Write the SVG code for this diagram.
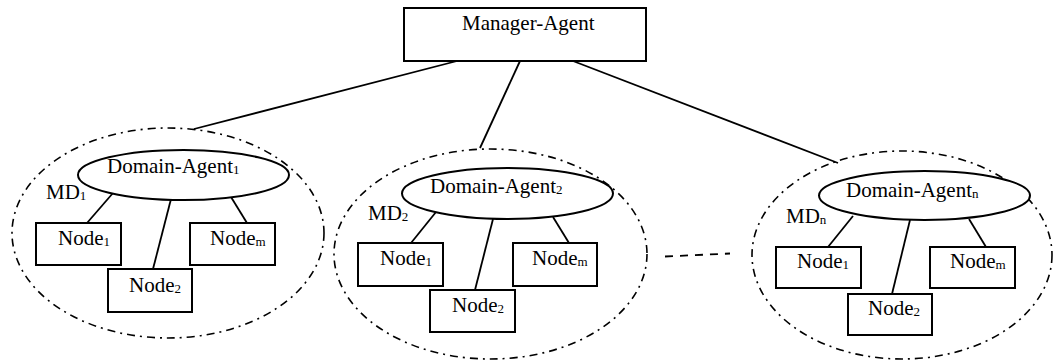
<svg xmlns="http://www.w3.org/2000/svg" width="1056" height="360" viewBox="0 0 1056 360">
<style>
  .t{font-family:"Liberation Serif","Times New Roman",serif;font-size:21px;fill:#000}
  .s{font-size:13px}
  .box{fill:#fff;stroke:#000;stroke-width:2}
  .ag{fill:#fff;stroke:#000;stroke-width:2}
  .md{fill:none;stroke:#000;stroke-width:1.6;stroke-dasharray:8 5 2 5}
  .ln{stroke:#000;stroke-width:1.8;fill:none}
  .dl{stroke:#000;stroke-width:1.8;stroke-dasharray:8 7;fill:none}
</style>
<rect width="1056" height="360" fill="#fff"/>
<g id="connectors">
  <line class="ln" x1="457" y1="61" x2="194" y2="129"/>
  <line class="ln" x1="520" y1="61" x2="480" y2="148"/>
  <line class="ln" x1="573" y1="61" x2="838" y2="163"/>
  <line class="ln" x1="113" y1="193" x2="87" y2="223"/>
  <line class="ln" x1="171" y1="199" x2="153" y2="269"/>
  <line class="ln" x1="231" y1="197" x2="247" y2="223"/>
  <line class="ln" x1="436" y1="212" x2="411" y2="243"/>
  <line class="ln" x1="493" y1="219" x2="475" y2="290"/>
  <line class="ln" x1="553" y1="217" x2="569" y2="243"/>
  <line class="ln" x1="853" y1="216" x2="828" y2="247"/>
  <line class="ln" x1="910" y1="220" x2="892" y2="294"/>
  <line class="ln" x1="969" y1="219" x2="986" y2="247"/>
  <line class="dl" x1="665" y1="256.5" x2="730" y2="253.5"/>
</g>
<g id="manager">
  <rect class="box" x="404" y="8" width="242" height="53"/>
  <text class="t" x="462" y="30">Manager-Agent</text>
</g>
<g id="md1">
  <ellipse class="md" cx="168" cy="233" rx="156" ry="105"/>
  <ellipse class="ag" cx="183.5" cy="175" rx="105.5" ry="25"/>
  <text class="t" x="107" y="173">Domain-Agent<tspan class="s" dy="1">1</tspan></text>
  <text class="t" x="46" y="199">MD<tspan class="s" dy="1">1</tspan></text>
</g>
<g id="md1-node1"><rect class="box" x="36" y="223" width="85" height="42"/><text class="t" x="58" y="245">Node<tspan class="s" dy="1">1</tspan></text></g>
<g id="md1-node2"><rect class="box" x="108" y="269" width="84" height="43"/><text class="t" x="129" y="292">Node<tspan class="s" dy="1">2</tspan></text></g>
<g id="md1-nodem"><rect class="box" x="190" y="223" width="85" height="42"/><text class="t" x="210" y="245">Node<tspan class="s" dy="1">m</tspan></text></g>
<g id="md2">
  <ellipse class="md" cx="490.5" cy="254" rx="156.5" ry="105"/>
  <ellipse class="ag" cx="507.5" cy="193.5" rx="105.5" ry="25.5"/>
  <text class="t" x="430" y="193">Domain-Agent<tspan class="s" dy="1">2</tspan></text>
  <text class="t" x="368" y="220">MD<tspan class="s" dy="1">2</tspan></text>
</g>
<g id="md2-node1"><rect class="box" x="358" y="243" width="85" height="43"/><text class="t" x="380" y="265">Node<tspan class="s" dy="1">1</tspan></text></g>
<g id="md2-node2"><rect class="box" x="430" y="290" width="85" height="42"/><text class="t" x="452" y="312">Node<tspan class="s" dy="1">2</tspan></text></g>
<g id="md2-nodem"><rect class="box" x="513" y="243" width="84" height="43"/><text class="t" x="532" y="265">Node<tspan class="s" dy="1">m</tspan></text></g>
<g id="mdn">
  <ellipse class="md" cx="902" cy="255" rx="150" ry="104"/>
  <ellipse class="ag" cx="924.5" cy="195.5" rx="105.5" ry="24.5"/>
  <text class="t" x="846" y="197">Domain-Agent<tspan class="s" dy="1">n</tspan></text>
  <text class="t" x="786" y="223">MD<tspan class="s" dy="1">n</tspan></text>
</g>
<g id="mdn-node1"><rect class="box" x="776" y="247" width="85" height="41"/><text class="t" x="797" y="268">Node<tspan class="s" dy="1">1</tspan></text></g>
<g id="mdn-node2"><rect class="box" x="848" y="294" width="84" height="41"/><text class="t" x="868" y="315">Node<tspan class="s" dy="1">2</tspan></text></g>
<g id="mdn-nodem"><rect class="box" x="930" y="247" width="85" height="41"/><text class="t" x="950" y="268">Node<tspan class="s" dy="1">m</tspan></text></g>
</svg>
